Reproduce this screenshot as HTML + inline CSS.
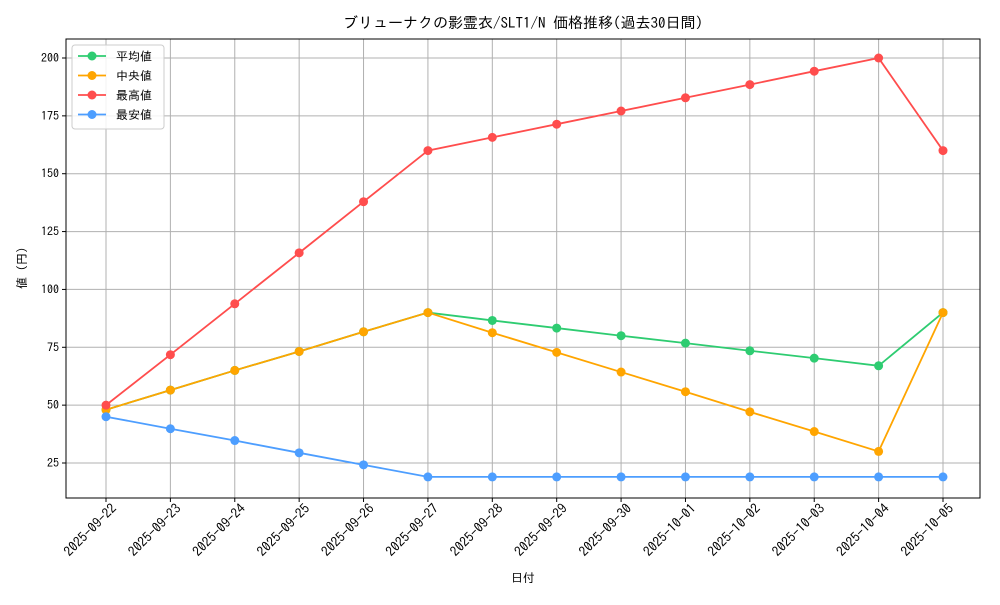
<!DOCTYPE html>
<html><head><meta charset="utf-8">
<style>
body{margin:0;background:#fff;}
svg text{font-family:"IPAGothic","Noto Sans CJK JP",monospace;}
</style></head>
<body>
<svg id="chart" width="1000" height="600" xmlns="http://www.w3.org/2000/svg"></svg>
<script>
const categories=["2025-09-22","2025-09-23","2025-09-24","2025-09-25","2025-09-26","2025-09-27","2025-09-28","2025-09-29","2025-09-30","2025-10-01","2025-10-02","2025-10-03","2025-10-04","2025-10-05"];
const avgValues=[48,56.5,65,73.2,81.7,90,86.6,83.3,80,76.8,73.5,70.3,67,90];
const medianValues=[48,56.5,65,73.2,81.7,90,81.3,72.8,64.3,55.8,47.1,38.6,30,90];
const maxValues=[50,71.8,93.8,115.8,137.9,160,165.7,171.4,177.1,182.8,188.5,194.3,200,160];
const minValues=[45,39.8,34.7,29.4,24.2,19,19,19,19,19,19,19,19,19];
const yTicks=[25,50,75,100,125,150,175,200];
const seriesNames=["平均値","中央値","最高値","最安値"];
const seriesColors=["#2ecc71","#ffa500","#ff4d4d","#4d9eff"];

const svg=document.getElementById('chart');
const NS="http://www.w3.org/2000/svg";
const L=66,R=980,T=39,B=498;
const xS=i=>106+i*(943-106)/(categories.length-1);
const yS=v=>463-(v-25)*(463-58)/175;
function mk(tag,attrs,parent){const e=document.createElementNS(NS,tag);for(const k in attrs)e.setAttribute(k,attrs[k]);(parent||svg).appendChild(e);return e;}

categories.forEach((c,i)=>{
  const g=mk('line',{x1:xS(i),x2:xS(i),y1:T,y2:B,stroke:'#b0b0b0','stroke-width':1});
  
  
  const t=mk('line',{x1:xS(i),x2:xS(i),y1:B,y2:B+4,stroke:'#000'});
  
  
  const lb=mk('text',{x:0,y:0,'font-size':13.5,'text-anchor':'end',transform:`translate(${xS(i)+8},${B+8}) rotate(-45)`,dy:'0.35em'});
  lb.textContent=c;
  
  
});
yTicks.forEach(v=>{
  const g=mk('line',{x1:L,x2:R,y1:yS(v),y2:yS(v),stroke:'#b0b0b0','stroke-width':1});
  
  
  const t=mk('line',{x1:L-4,x2:L,y1:yS(v),y2:yS(v),stroke:'#000'});
  
  
  const lb=mk('text',{x:L-7,y:yS(v)+4,'font-size':12,'text-anchor':'end'});
  lb.textContent=v;
  
  
});
const frame=mk('rect',{x:L,y:T,width:R-L,height:B-T,fill:'none',stroke:'#000','stroke-width':1});



[avgValues,medianValues,maxValues,minValues].forEach((vals,s)=>{
  const g=mk('g',{});
  
  
  mk('polyline',{points:vals.map((v,i)=>xS(i)+','+yS(v)).join(' '),fill:'none',stroke:seriesColors[s],'stroke-width':1.8},g);
  vals.forEach((v,i)=>{
    const c=mk('circle',{cx:xS(i),cy:yS(v),r:4.5,fill:seriesColors[s]},g);
    
    
  });
});

const lg=mk('g',{});


mk('rect',{x:72,y:45,width:92,height:84,rx:3,fill:'#fff','fill-opacity':0.85,stroke:'#ccc'},lg);
seriesNames.forEach((n,s)=>{
  const y=56+s*19.5;
  const e=mk('g',{},lg);
  
  
  mk('line',{x1:78,x2:106,y1:y,y2:y,stroke:seriesColors[s],'stroke-width':1.8},e);
  mk('circle',{cx:92,cy:y,r:4.5,fill:seriesColors[s]},e);
  const t=mk('text',{x:116,y:y+4.5,'font-size':12},e);t.textContent=n;
});

const ti=mk('text',{x:523,y:28,'font-size':15,'text-anchor':'middle'});
ti.textContent="ブリューナクの影霊衣/SLT1/N 価格推移(過去30日間)";


const xt=mk('text',{x:523,y:582,'font-size':12,'text-anchor':'middle'});
xt.textContent="日付";


const yt=mk('text',{x:0,y:0,'font-size':12,'text-anchor':'middle',transform:'translate(26,268) rotate(-90)'});
yt.textContent="値 (円)";


</script>
</body></html>
